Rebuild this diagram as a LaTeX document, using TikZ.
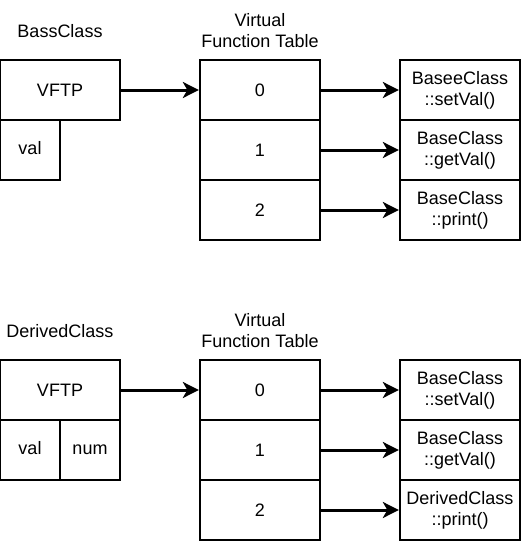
\documentclass[tikz,border=0pt]{standalone}
\usepackage{fontspec}
\setmainfont{Liberation Sans}
\usetikzlibrary{arrows.meta}
\begin{document}
\begin{tikzpicture}[x=1pt,y=-1pt,
  cell/.style={draw=black,line width=1.3pt,fill=white,inner sep=0pt,font=\fontsize{18}{21}\selectfont,align=center},
  strut/.style={text height=13pt,text depth=4pt},
  lbl/.style={inner sep=0pt,font=\fontsize{18}{21}\selectfont,align=center},
  ptr/.style={line width=3pt,-{Stealth[length=16pt 0,width=16pt 0,inset=4.5pt 0]},shorten >=0.5pt}]
\useasboundingbox (0,0) rectangle (521,541);
% --- Base class ---
\node[lbl] (bname) at (60,31) {BassClass};
\node[lbl] (bvtt) at (260,31) {Virtual\\Function Table};
\node[cell,minimum width=120pt,minimum height=60pt] (bvftp) at (60,90) {VFTP};
\node[cell,strut,minimum width=60pt,minimum height=60pt] (bval) at (30,150) {val};
\node[cell,minimum width=120pt,minimum height=60pt] (b0) at (260,90) {0};
\node[cell,minimum width=120pt,minimum height=60pt] (b1) at (260,150) {1};
\node[cell,minimum width=120pt,minimum height=60pt] (b2) at (260,210) {2};
\node[cell,minimum width=120pt,minimum height=60pt] (bf0) at (460,90) {BaseeClass\\::setVal()};
\node[cell,minimum width=120pt,minimum height=60pt] (bf1) at (460,150) {BaseClass\\::getVal()};
\node[cell,minimum width=120pt,minimum height=60pt] (bf2) at (460,210) {BaseClass\\::print()};
\draw[ptr] (bvftp) -- (b0);
\draw[ptr] (b0) -- (bf0);
\draw[ptr] (b1) -- (bf1);
\draw[ptr] (b2) -- (bf2);
% --- Derived class ---
\node[lbl] (dname) at (60,331) {DerivedClass};
\node[lbl] (dvtt) at (260,331) {Virtual\\Function Table};
\node[cell,minimum width=120pt,minimum height=60pt] (dvftp) at (60,390) {VFTP};
\node[cell,strut,minimum width=60pt,minimum height=60pt] (dval) at (30,450) {val};
\node[cell,strut,minimum width=60pt,minimum height=60pt] (dnum) at (90,450) {num};
\node[cell,minimum width=120pt,minimum height=60pt] (d0) at (260,390) {0};
\node[cell,minimum width=120pt,minimum height=60pt] (d1) at (260,450) {1};
\node[cell,minimum width=120pt,minimum height=60pt] (d2) at (260,510) {2};
\node[cell,minimum width=120pt,minimum height=60pt] (df0) at (460,390) {BaseClass\\::setVal()};
\node[cell,minimum width=120pt,minimum height=60pt] (df1) at (460,450) {BaseClass\\::getVal()};
\node[cell,minimum width=120pt,minimum height=60pt] (df2) at (460,510) {DerivedClass\\::print()};
\draw[ptr] (dvftp) -- (d0);
\draw[ptr] (d0) -- (df0);
\draw[ptr] (d1) -- (df1);
\draw[ptr] (d2) -- (df2);
\end{tikzpicture}
\end{document}
